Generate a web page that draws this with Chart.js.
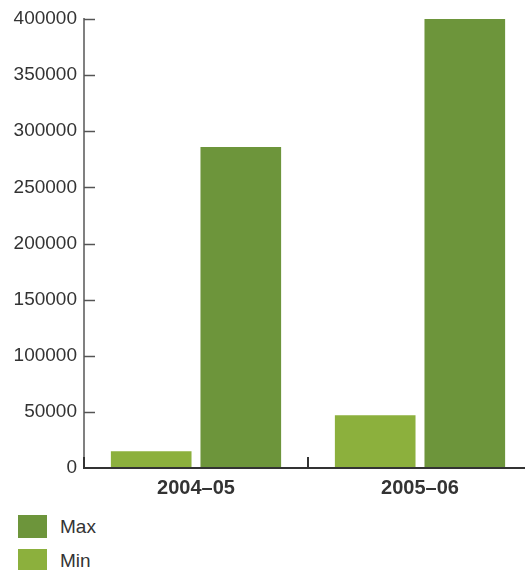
<!DOCTYPE html>
<html lang="en">
<head>
    <meta charset="UTF-8">
    <title>Min / Max</title>
    <script src="https://cdn.jsdelivr.net/npm/chart.js"></script>
    <style>
        body { margin: 0; background: #fff; font-family: "Liberation Sans", Arial, sans-serif; }
        .wrap { width: 525px; height: 570px; overflow: hidden; position: relative; }
        .box { width: 540px; height: 500px; }
        #legend { position: absolute; left: 18px; top: 515px; }
        .item { display: flex; align-items: center; height: 23px; margin-bottom: 11px; font-size: 19px; color: #333; }
        .sw { width: 29px; height: 23px; margin-right: 13px; }
    </style>
</head>
<body>
    <div class="wrap">
        <div class="box"><canvas id="grafico" width="540" height="500"></canvas></div>
        <div id="legend"></div>
    </div>

    <script>
        const periodos = ['2004\u201305', '2005\u201306'];
        const valoresMin = [15000, 47000];
        const valoresMax = [286000, 400000];
        const colorMin = '#8cb03d';
        const colorMax = '#6d953b';

        // marcas cortas hacia dentro en los ejes
        const marcas = {
            id: 'marcas',
            afterDraw(chart) {
                const ctx = chart.ctx;
                const y = chart.scales.y, x = chart.scales.x;
                const area = chart.chartArea;
                ctx.save();
                ctx.lineWidth = 1.5;
                ctx.strokeStyle = '#555';
                y.ticks.forEach(t => {
                    const py = Math.round(y.getPixelForValue(t.value)) + 0.5;
                    if (t.value === 0) return;
                    ctx.beginPath();
                    ctx.moveTo(area.left, py);
                    ctx.lineTo(area.left + 11, py);
                    ctx.stroke();
                });
                ctx.strokeStyle = '#333';
                ctx.lineWidth = 2;
                const paso = x.getPixelForValue(1) - x.getPixelForValue(0);
                for (let i = 0; i < periodos.length; i++) {
                    const px = x.getPixelForValue(i) - paso / 2;
                    ctx.beginPath();
                    ctx.moveTo(px, area.bottom);
                    ctx.lineTo(px, area.bottom - 11);
                    ctx.stroke();
                }
                // eje x
                ctx.beginPath();
                ctx.moveTo(area.left - 1, area.bottom);
                ctx.lineTo(area.right, area.bottom);
                ctx.stroke();
                ctx.restore();
            }
        };

        const datasets = [
            { label: 'Min', data: valoresMin, backgroundColor: colorMin },
            { label: 'Max', data: valoresMax, backgroundColor: colorMax }
        ];

        new Chart(document.getElementById('grafico'), {
            type: 'bar',
            data: { labels: periodos, datasets: datasets },
            options: {
                responsive: false,
                animation: false,
                layout: { padding: { top: 19, right: 8, bottom: 0, left: 0 } },
                datasets: { bar: { categoryPercentage: 0.8, barPercentage: 0.9 } },
                plugins: { legend: { display: false }, tooltip: { enabled: false } },
                scales: {
                    x: {
                        grid: { display: false, drawTicks: false },
                        border: { display: false },
                        ticks: { color: '#333', padding: 8, font: { family: 'Liberation Sans', size: 20, weight: 'bold' } },
                        afterFit(s) { s.height = 32; }
                    },
                    y: {
                        min: 0, max: 400000,
                        grid: { display: false, drawTicks: false },
                        border: { display: true, color: '#808080', width: 2 },
                        ticks: {
                            stepSize: 50000, color: '#333', padding: 7,
                            font: { family: 'Liberation Sans', size: 19 },
                            callback: v => String(v)
                        },
                        afterFit(s) { s.width = 84; }
                    }
                }
            },
            plugins: [marcas]
        });

        // leyenda: Max arriba, Min abajo
        const leyenda = document.getElementById('legend');
        [datasets[1], datasets[0]].forEach(d => {
            const fila = document.createElement('div');
            fila.className = 'item';
            fila.innerHTML = '<span class="sw" style="background:' + d.backgroundColor + '"></span>' + d.label;
            leyenda.appendChild(fila);
        });
    </script>
</body>
</html>
